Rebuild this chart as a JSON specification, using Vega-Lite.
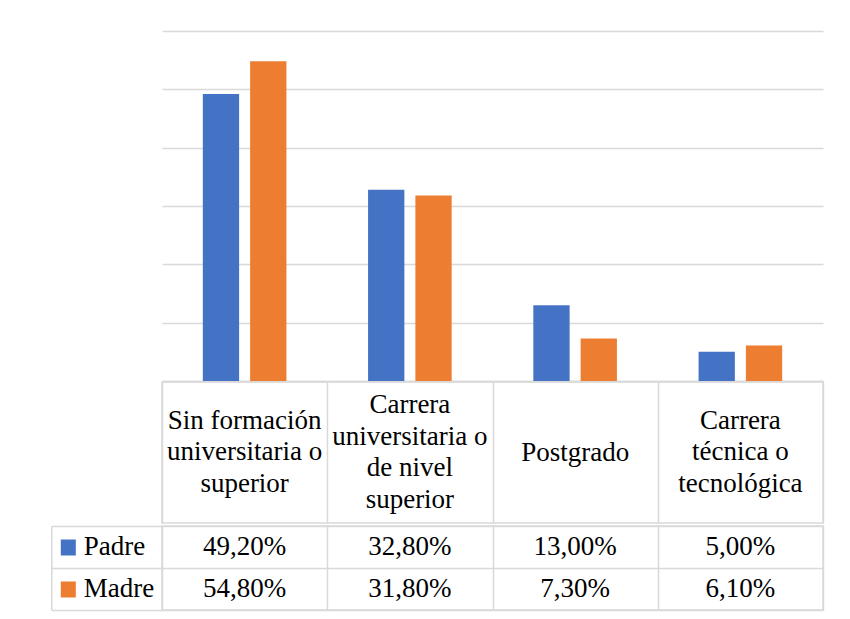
{
  "$schema": "https://vega.github.io/schema/vega-lite/v6.json",
  "padding": {"left": 49, "top": 31, "right": 20, "bottom": 10},
  "background": "white",
  "spacing": 0,
  "config": {"view": {"stroke": null}, "font": "Liberation Serif", "concat": {"spacing": 0}},
  "datasets": {
    "main": [
      {"categoria": "Sin formación universitaria o superior", "serie": "Padre", "valor": 49.2, "etiqueta": "49,20%"},
      {"categoria": "Sin formación universitaria o superior", "serie": "Madre", "valor": 54.8, "etiqueta": "54,80%"},
      {"categoria": "Carrera universitaria o de nivel superior", "serie": "Padre", "valor": 32.8, "etiqueta": "32,80%"},
      {"categoria": "Carrera universitaria o de nivel superior", "serie": "Madre", "valor": 31.8, "etiqueta": "31,80%"},
      {"categoria": "Postgrado", "serie": "Padre", "valor": 13.0, "etiqueta": "13,00%"},
      {"categoria": "Postgrado", "serie": "Madre", "valor": 7.3, "etiqueta": "7,30%"},
      {"categoria": "Carrera técnica o tecnológica", "serie": "Padre", "valor": 5.0, "etiqueta": "5,00%"},
      {"categoria": "Carrera técnica o tecnológica", "serie": "Madre", "valor": 6.1, "etiqueta": "6,10%"}
    ],
    "cats": [
      {"categoria": "Sin formación universitaria o superior", "lineas": ["Sin formación", "universitaria o", "superior"]},
      {"categoria": "Carrera universitaria o de nivel superior", "lineas": ["Carrera", "universitaria o", "de nivel", "superior"]},
      {"categoria": "Postgrado", "lineas": ["Postgrado"]},
      {"categoria": "Carrera técnica o tecnológica", "lineas": ["Carrera", "técnica o", "tecnológica"]}
    ]
  },
  "vconcat": [
    {
      "width": 661,
      "height": 350,
      "data": {"name": "main"},
      "mark": {"type": "bar"},
      "encoding": {
        "x": {"field": "categoria", "type": "nominal",
          "scale": {"domain": ["Sin formación universitaria o superior", "Carrera universitaria o de nivel superior", "Postgrado", "Carrera técnica o tecnológica"], "paddingInner": 0, "paddingOuter": 0},
          "axis": {"labels": false, "ticks": false, "title": null, "domainColor": "#d9d9d9", "domainWidth": 1.5}},
        "xOffset": {"field": "serie", "type": "nominal", "scale": {"domain": ["Padre", "Madre"], "paddingInner": 0.233, "paddingOuter": 0.863}},
        "y": {"field": "valor", "type": "quantitative", "scale": {"domain": [0, 60], "nice": false},
          "axis": {"values": [0, 10, 20, 30, 40, 50, 60], "labels": false, "ticks": false, "domain": false, "title": null, "gridColor": "#d9d9d9", "gridWidth": 1.5}},
        "color": {"field": "serie", "type": "nominal", "scale": {"domain": ["Padre", "Madre"], "range": ["#4472c4", "#ed7d31"]}, "legend": null}
      }
    },
    {
      "width": 661,
      "height": 141,
      "view": {"stroke": "#d9d9d9", "strokeWidth": 1.5},
      "data": {"name": "cats"},
      "encoding": {
        "x": {"field": "categoria", "type": "nominal",
          "scale": {"domain": ["Sin formación universitaria o superior", "Carrera universitaria o de nivel superior", "Postgrado", "Carrera técnica o tecnológica"], "paddingInner": 0, "paddingOuter": 0},
          "axis": {"labels": false, "ticks": false, "domain": false, "title": null, "grid": true, "tickBand": "extent", "gridColor": "#d9d9d9", "gridWidth": 1.5}},
        "text": {"field": "lineas", "type": "nominal"}
      },
      "layer": [
        {
          "transform": [{"filter": "length(datum.lineas) === 1"}],
          "mark": {"type": "text", "font": "Liberation Serif", "fontSize": 27, "lineHeight": 31.7, "baseline": "middle", "align": "center", "color": "black", "dy": 0}
        },
        {
          "transform": [{"filter": "length(datum.lineas) === 3"}],
          "mark": {"type": "text", "font": "Liberation Serif", "fontSize": 27, "lineHeight": 31.7, "baseline": "middle", "align": "center", "color": "black", "dy": -31.7}
        },
        {
          "transform": [{"filter": "length(datum.lineas) === 4"}],
          "mark": {"type": "text", "font": "Liberation Serif", "fontSize": 27, "lineHeight": 31.7, "baseline": "middle", "align": "center", "color": "black", "dy": -47.5}
        }
      ]
    },
    {
      "width": 661,
      "height": 84,
      "view": {"stroke": "#d9d9d9", "strokeWidth": 1.5},
      "data": {"name": "main"},
      "encoding": {
        "x": {"field": "categoria", "type": "nominal",
          "scale": {"domain": ["Sin formación universitaria o superior", "Carrera universitaria o de nivel superior", "Postgrado", "Carrera técnica o tecnológica"], "paddingInner": 0, "paddingOuter": 0},
          "axis": {"labels": false, "ticks": false, "domain": false, "title": null, "grid": true, "tickBand": "extent", "gridColor": "#d9d9d9", "gridWidth": 1.5}}
      },
      "layer": [
        {
          "mark": {"type": "text", "font": "Liberation Serif", "fontSize": 27, "baseline": "middle", "align": "center", "color": "black"},
          "encoding": {
            "text": {"field": "etiqueta", "type": "nominal"},
            "y": {"field": "serie", "type": "nominal", "scale": {"domain": ["Padre", "Madre"], "paddingInner": 0, "paddingOuter": 0},
              "axis": {"orient": "left", "title": null, "labels": false, "domain": false, "ticks": true, "tickBand": "extent", "tickSize": 110.7, "tickColor": "#d9d9d9", "tickWidth": 1.5, "grid": true, "gridColor": "#d9d9d9", "gridWidth": 1.5}}
          }
        },
        {
          "mark": {"type": "text", "opacity": 0},
          "encoding": {
            "text": {"field": "etiqueta", "type": "nominal"},
            "y": {"field": "serie", "type": "nominal",
              "axis": {"orient": "left", "offset": 86.7, "title": null, "domain": false, "ticks": true, "tickSize": 15, "tickWidth": 16,
                "tickColor": {"condition": {"test": "datum.value === 'Padre'", "value": "#4472c4"}, "value": "#ed7d31"},
                "labelAlign": "left", "labelPadding": -23, "labelFontSize": 27, "labelFont": "Liberation Serif", "labelColor": "black", "labelBaseline": "middle", "grid": false}}
          }
        },
        {
          "mark": {"type": "text", "opacity": 0},
          "encoding": {
            "text": {"field": "etiqueta", "type": "nominal"},
            "y": {"field": "serie", "type": "nominal",
              "axis": {"orient": "left", "offset": 110.7, "title": null, "domain": true, "domainColor": "#d9d9d9", "domainWidth": 1.5, "ticks": false, "labels": false, "grid": false}}
          }
        }
      ],
      "resolve": {"axis": {"y": "independent"}}
    }
  ]
}
